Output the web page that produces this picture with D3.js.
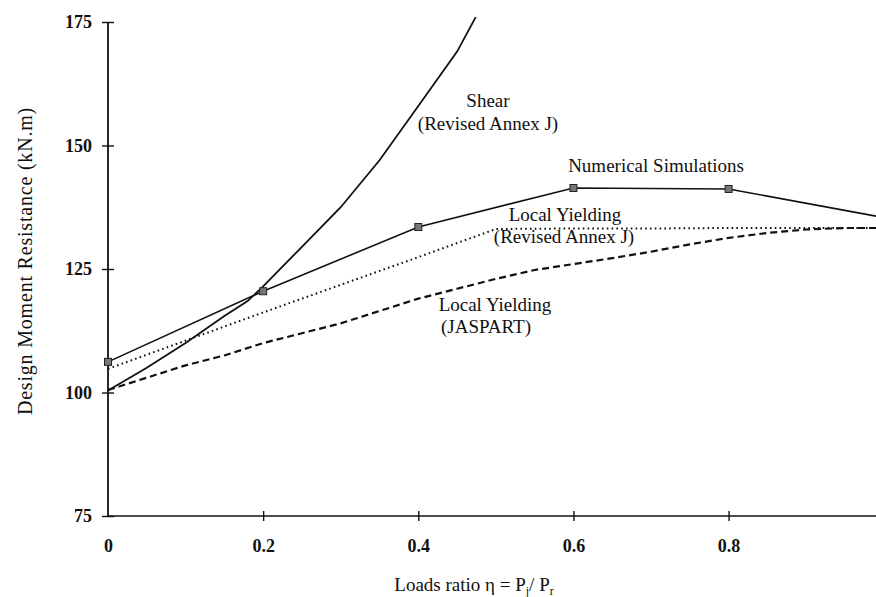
<!DOCTYPE html>
<html>
<head>
<meta charset="utf-8">
<script src="https://cdn.jsdelivr.net/npm/d3@7"></script>
<style>
  body { margin: 0; background: #fff; }
  svg { font-family: "Liberation Serif", "Times New Roman", serif; }
</style>
</head>
<body>
<svg id="chart" width="876" height="597"></svg>
<script>
// values
let simX = [0, 0.2, 0.4, 0.6, 0.8, 0.99];
let simY = [106.2, 120.5, 133.5, 141.4, 141.2, 135.7];

let shearX = [0, 0.05, 0.1, 0.15, 0.18, 0.2, 0.25, 0.3, 0.35, 0.4, 0.45, 0.474];
let shearY = [100.4, 105, 110, 115.5, 118.5, 121.5, 129.5, 137.5, 147, 158, 169, 176];

let annexX = [0, 0.1, 0.2, 0.3, 0.4, 0.5, 0.6, 0.7, 0.8, 0.9, 0.99];
let annexY = [104.8, 110.5, 116.2, 121.8, 127.4, 133.1, 133.2, 133.2, 133.3, 133.3, 133.3];

let jasX = [0, 0.05, 0.1, 0.15, 0.2, 0.25, 0.3, 0.35, 0.4, 0.45, 0.5, 0.55, 0.6, 0.65, 0.7, 0.75, 0.8, 0.85, 0.9, 0.95, 0.99];
let jasY = [100.5, 103, 105.5, 107.5, 110, 112, 114, 116.5, 119, 121, 123, 124.8, 126, 127.2, 128.5, 130, 131.3, 132.3, 133, 133.3, 133.3];

let xTicks = [0, 0.2, 0.4, 0.6, 0.8];
let yTicks = [75, 100, 125, 150, 175];

let svg = d3.select("#chart");
let plotLeft = 108, plotRight = 876, plotTop = 22, plotBottom = 516;

let x = d3.scaleLinear().domain([0, 0.99]).range([plotLeft, plotRight]);
let y = d3.scaleLinear().domain([75, 175]).range([plotBottom, plotTop]);

// axes
let xAxis = svg.append("g")
  .attr("transform", `translate(0,${plotBottom})`)
  .call(d3.axisBottom(x).tickValues(xTicks).tickSize(5).tickPadding(18)
    .tickFormat(d => d === 0 ? "0" : d3.format(".1f")(d)));
xAxis.select(".domain").attr("d", `M${plotLeft},0H${plotRight}`).attr("stroke", "#111").attr("stroke-width", 1.6);
xAxis.selectAll(".tick line").attr("y1", -5).attr("y2", 5).attr("stroke", "#111").attr("stroke-width", 1.4);
xAxis.selectAll(".tick").filter(d => d === 0).select("line").remove();
xAxis.selectAll(".tick text").attr("font-size", 18).attr("fill", "#111")
  .attr("font-family", "Liberation Serif").attr("font-weight", "bold");

let yAxis = svg.append("g")
  .attr("transform", `translate(${plotLeft},0)`)
  .call(d3.axisLeft(y).tickValues(yTicks).tickSize(6).tickPadding(10));
yAxis.select(".domain").attr("d", `M0,${plotTop}V${plotBottom}`).attr("stroke", "#111").attr("stroke-width", 1.8);
yAxis.selectAll(".tick line").attr("x1", -6).attr("x2", 6).attr("stroke", "#111").attr("stroke-width", 1.4);
yAxis.selectAll(".tick text").attr("font-size", 18).attr("fill", "#111")
  .attr("font-family", "Liberation Serif").attr("font-weight", "bold");

// series
function draw(xs, ys, dash, width) {
  let pts = xs.map((d, i) => [d, ys[i]]);
  svg.append("path")
    .datum(pts)
    .attr("d", d3.line().x(d => x(d[0])).y(d => y(d[1])))
    .attr("fill", "none")
    .attr("stroke", "#111")
    .attr("stroke-width", width)
    .attr("stroke-dasharray", dash);
}
draw(jasX, jasY, "7,4", 2.2);
draw(annexX, annexY, "1.6,3.2", 2);
draw(shearX, shearY, null, 1.8);
draw(simX, simY, null, 1.6);

svg.selectAll(".marker")
  .data(simX.slice(0, 5).map((d, i) => [d, simY[i]]))
  .enter()
  .append("rect")
  .attr("x", d => x(d[0]) - 3.5)
  .attr("y", d => y(d[1]) - 3.5)
  .attr("width", 7)
  .attr("height", 7)
  .attr("fill", "#777")
  .attr("stroke", "#222")
  .attr("stroke-width", 1);

// annotations
let notes = [
  ["Shear", 488, 107],
  ["(Revised Annex J)", 488, 130],
  ["Numerical Simulations", 656, 172],
  ["Local Yielding", 565, 221],
  ["(Revised Annex J)", 564, 243],
  ["Local Yielding", 495, 311],
  ["(JASPART)", 486, 333]
];
svg.selectAll(".note")
  .data(notes)
  .enter()
  .append("text")
  .attr("x", d => d[1])
  .attr("y", d => d[2])
  .attr("text-anchor", "middle")
  .attr("font-size", 19)
  .attr("fill", "#111")
  .text(d => d[0]);

// axis titles
let xt = svg.append("text")
  .attr("x", 474)
  .attr("y", 591)
  .attr("text-anchor", "middle")
  .attr("font-size", 19)
  .attr("fill", "#111");
xt.append("tspan").text("Loads ratio η = P");
xt.append("tspan").attr("font-size", 12).attr("dy", 4).text("j");
xt.append("tspan").attr("dy", -4).text("/ P");
xt.append("tspan").attr("font-size", 12).attr("dy", 4).text("r");

svg.append("text")
  .attr("transform", "translate(32,261) rotate(-90)")
  .attr("text-anchor", "middle")
  .attr("font-size", 20)
  .attr("letter-spacing", 0.8)
  .attr("fill", "#111")
  .text("Design Moment Resistance (kN.m)");
</script>
</body>
</html>
